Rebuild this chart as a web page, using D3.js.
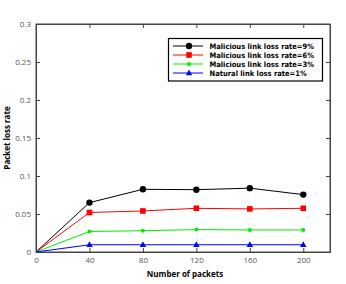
<!DOCTYPE html>
<html>
<head>
<meta charset="utf-8" />
<script src="https://d3js.org/d3.v7.min.js"></script>
<style>
  body { margin: 0; background: #fff; }
  text { font-family: "Open Sans", "DejaVu Sans", sans-serif; }
</style>
</head>
<body>
<svg id="chart"></svg>
<script>
var packets = [0, 40, 80, 120, 160, 200];
var mal9 = [0, 0.065, 0.0825, 0.082, 0.084, 0.0755];
var mal6 = [0, 0.052, 0.054, 0.0575, 0.0567, 0.0575];
var mal3 = [0, 0.027, 0.028, 0.0295, 0.029, 0.029];
var nat1 = [0, 0.0095, 0.0095, 0.0095, 0.0095, 0.0095];
var xTicks = [0, 40, 80, 120, 160, 200];
var yTicks = [0, 0.05, 0.1, 0.15, 0.2, 0.25, 0.3];

var series = [
  {name: "Malicious link loss rate=9%", values: mal9, color: "#000000", shape: "circle"},
  {name: "Malicious link loss rate=6%", values: mal6, color: "#ff0000", shape: "square"},
  {name: "Malicious link loss rate=3%", values: mal3, color: "#00ee00", shape: "dot"},
  {name: "Natural link loss rate=1%", values: nat1, color: "#0000ff", shape: "triangle"}
];

var width = 346, height = 284;
var margin = {left: 36, top: 24, right: 16, bottom: 32};

var svg = d3.select("#chart").attr("width", width).attr("height", height);

var x = d3.scaleLinear().domain([0, 220]).range([margin.left, width - margin.right]);
var y = d3.scaleLinear().domain([0, 0.3]).range([height - margin.bottom, margin.top]);

var axisColor = "#444";
var fmt = function(d){ return d === 0 ? "0" : String(+d.toFixed(2)); };

// frame
svg.append("rect")
   .attr("x", x(0)).attr("y", y(0.3))
   .attr("width", x(220) - x(0)).attr("height", y(0) - y(0.3))
   .attr("fill", "none").attr("stroke", axisColor).attr("stroke-width", 1);

var gx = svg.append("g").attr("transform", "translate(0," + y(0) + ")")
   .call(d3.axisBottom(x).tickValues(xTicks).tickSize(-4).tickPadding(5).tickFormat(fmt));
var gxTop = svg.append("g").attr("transform", "translate(0," + y(0.3) + ")")
   .call(d3.axisTop(x).tickValues(xTicks.slice(1)).tickSize(-4).tickFormat(""));
var gy = svg.append("g").attr("transform", "translate(" + x(0) + ",0)")
   .call(d3.axisLeft(y).tickValues(yTicks).tickSize(-4).tickPadding(5).tickFormat(fmt));
var gyRight = svg.append("g").attr("transform", "translate(" + x(220) + ",0)")
   .call(d3.axisRight(y).tickValues(yTicks.slice(1)).tickSize(-4).tickFormat(""));

[gx, gxTop, gy, gyRight].forEach(function(g){
  g.select(".domain").attr("stroke", axisColor);
  g.selectAll(".tick line").attr("stroke", axisColor);
  g.selectAll("text").attr("fill", "#555").attr("font-size", 8).style("font-family", "Open Sans");
});

// axis titles
svg.append("text")
   .attr("x", 185).attr("y", 277)
   .attr("text-anchor", "middle").attr("font-size", 8).attr("font-weight", "bold")
   .text("Number of packets");
svg.append("text")
   .attr("transform", "translate(10," + y(0.15) + ") rotate(-90)")
   .attr("text-anchor", "middle").attr("font-size", 8).attr("font-weight", "bold")
   .text("Packet loss rate");

function drawMarker(g, shape, color, cx, cy){
  if(shape === "circle"){
    g.append("circle").attr("cx", cx).attr("cy", cy).attr("r", 3.2).attr("fill", color);
  } else if(shape === "square"){
    g.append("rect").attr("x", cx - 2.8).attr("y", cy - 2.8).attr("width", 5.6).attr("height", 5.6).attr("fill", color);
  } else if(shape === "dot"){
    g.append("circle").attr("cx", cx).attr("cy", cy).attr("r", 2).attr("fill", color);
  } else {
    g.append("path").attr("d", d3.symbol().type(d3.symbolTriangle).size(18)())
     .attr("transform", "translate(" + cx + "," + (cy + 0.3) + ")").attr("fill", color);
  }
}

var line = d3.line().x(function(d){ return x(d[0]); }).y(function(d){ return y(d[1]); });

series.forEach(function(s){
  var pts = packets.map(function(p, i){ return [p, s.values[i]]; });
  var g = svg.append("g");
  g.append("path").datum(pts).attr("d", line)
   .attr("fill", "none").attr("stroke", s.color).attr("stroke-width", 1);
  pts.slice(1).forEach(function(p){ drawMarker(g, s.shape, s.color, x(p[0]), y(p[1])); });
});

// legend (DejaVu has a tighter line box, so rows 9px apart don't collide)
var lg = svg.append("g");
lg.append("rect").attr("x", 168.5).attr("y", 38.5).attr("width", 154).attr("height", 42.5)
  .attr("fill", "#fff").attr("stroke", "#000").attr("stroke-width", 1.2);
var labels = [];
series.forEach(function(s, i){
  var ly = 46 + i * 9;
  lg.append("line").attr("x1", 173).attr("x2", 203).attr("y1", ly).attr("y2", ly)
    .attr("stroke", s.color).attr("stroke-width", 1);
  drawMarker(lg, s.shape, s.color, 189, ly);
  labels.push(lg.append("text").attr("x", 209.5).attr("y", ly + 2.8)
    .style("font-family", "DejaVu Sans")
    .attr("font-size", 7.4).attr("font-weight", "bold").text(s.name));
});
var longest = d3.max(labels, function(t){ return t.node().getComputedTextLength(); });
var k = 104.5 / longest;
labels.forEach(function(t){
  t.attr("textLength", t.node().getComputedTextLength() * k).attr("lengthAdjust", "spacingAndGlyphs");
});
</script>
</body>
</html>
